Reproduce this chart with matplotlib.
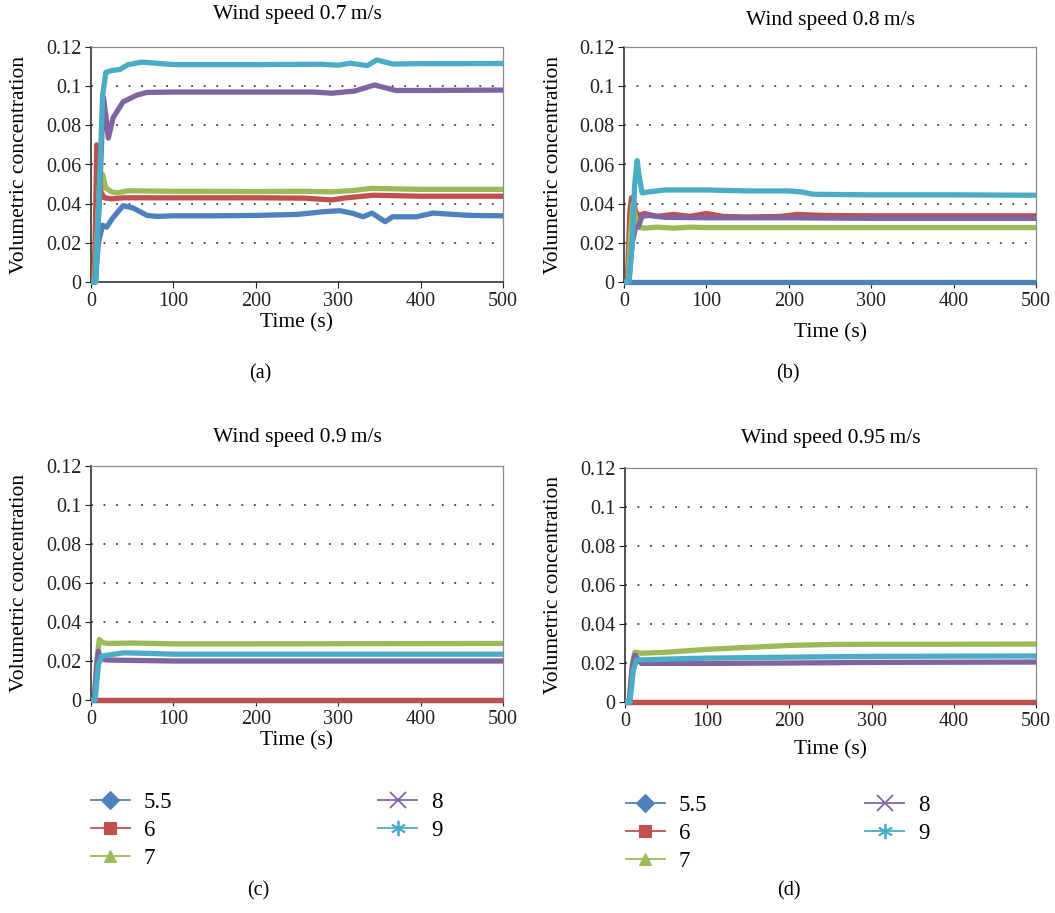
import matplotlib
matplotlib.use("Agg")
import matplotlib.pyplot as plt
from matplotlib.lines import Line2D

plt.rcParams['font.family'] = ['Liberation Serif', 'DejaVu Serif']

# ---------------- data ----------------
series_names = ["5.5", "6", "7", "8", "9"]
colors = ["#4F81BD", "#C0504D", "#9BBB59", "#8064A2", "#4BACC6"]
markers = ["D", "s", "^", "x", (6, 2, 0)]
titles = ["Wind speed 0.7\u2009m/s", "Wind speed 0.8\u2009m/s",
          "Wind speed 0.9\u2009m/s", "Wind speed 0.95\u2009m/s"]
panel_labels = ["(a)", "(b)", "(c)", "(d)"]
yticks = [0, 0.02, 0.04, 0.06, 0.08, 0.1, 0.12]
ytick_labels = ["0", "0.02", "0.04", "0.06", "0.08", "0.1", "0.12"]
xticks = [0, 100, 200, 300, 400, 500]

# Panel (a) 0.7 m/s
a55_t = [0, 5, 9, 14, 19, 27, 39, 51, 68, 80, 100, 150, 200, 250, 262, 282, 302, 318, 330, 341, 357, 366, 395, 415, 440, 460, 500]
a55_v = [0, 0, 0.02, 0.029, 0.028, 0.033, 0.039, 0.0378, 0.034, 0.0335, 0.0338, 0.0338, 0.034, 0.0345, 0.035, 0.0359, 0.0364, 0.035, 0.0333, 0.0352, 0.0308, 0.0333, 0.0333, 0.0352, 0.0345, 0.034, 0.0338]
a6_t = [0, 3, 5, 7, 9, 12, 16, 25, 40, 100, 200, 260, 292, 310, 343, 400, 500]
a6_v = [0, 0, 0.02, 0.07, 0.068, 0.046, 0.043, 0.0425, 0.043, 0.043, 0.043, 0.0428, 0.0419, 0.043, 0.0443, 0.0438, 0.0438]
a7_t = [0, 4, 8, 11, 14, 18, 25, 32, 45, 100, 200, 260, 292, 320, 340, 400, 500]
a7_v = [0, 0, 0.03, 0.056, 0.055, 0.048, 0.046, 0.0455, 0.0466, 0.0463, 0.0462, 0.0463, 0.046, 0.0468, 0.0478, 0.0473, 0.0473]
a8_t = [0, 5, 10, 15, 18, 21, 27, 39, 56, 68, 100, 200, 270, 292, 320, 344, 370, 400, 500]
a8_v = [0, 0, 0.04, 0.0945, 0.085, 0.0735, 0.084, 0.092, 0.0955, 0.0968, 0.097, 0.097, 0.097, 0.0964, 0.0975, 0.1006, 0.0978, 0.0978, 0.098]
a9_t = [0, 6, 10, 14, 18, 25, 35, 45, 62, 100, 200, 280, 300, 315, 335, 347, 366, 400, 450, 500]
a9_v = [0, 0, 0.045, 0.095, 0.107, 0.108, 0.1085, 0.111, 0.1123, 0.111, 0.111, 0.1112, 0.1107, 0.1117, 0.1105, 0.1134, 0.1113, 0.1115, 0.1115, 0.1116]

# Panel (b) 0.8 m/s
b55_t = [0, 500]
b55_v = [0, 0]
b6_t = [0, 4, 7, 9, 11, 14, 18, 25, 40, 60, 80, 100, 120, 150, 190, 210, 240, 300, 500]
b6_v = [0, 0, 0.035, 0.043, 0.043, 0.036, 0.034, 0.035, 0.0335, 0.0345, 0.0335, 0.035, 0.0335, 0.0332, 0.0335, 0.0345, 0.034, 0.0338, 0.0338]
b7_t = [0, 5, 8, 11, 13, 17, 25, 40, 60, 80, 100, 200, 500]
b7_v = [0, 0, 0.025, 0.04, 0.035, 0.028, 0.0275, 0.028, 0.0275, 0.028, 0.0278, 0.0278, 0.0278]
b8_t = [0, 6, 10, 14, 17, 22, 30, 50, 100, 200, 300, 500]
b8_v = [0, 0, 0.02, 0.028, 0.028, 0.0335, 0.034, 0.033, 0.0328, 0.0328, 0.0325, 0.0325]
b9_t = [0, 6, 10, 13, 16, 18, 22, 30, 50, 100, 150, 200, 215, 230, 300, 400, 500]
b9_v = [0, 0, 0.02, 0.05, 0.062, 0.055, 0.0455, 0.046, 0.047, 0.047, 0.0465, 0.0465, 0.046, 0.0448, 0.0445, 0.0445, 0.0443]

# Panel (c) 0.9 m/s
c55_t = [0, 500]
c55_v = [0, 0]
c6_t = [0, 500]
c6_v = [0, 0]
c7_t = [0, 4, 7, 10, 14, 20, 50, 100, 200, 500]
c7_v = [0, 0, 0.02, 0.031, 0.0295, 0.029, 0.0292, 0.0288, 0.0288, 0.029]
c8_t = [0, 4, 7, 9, 12, 20, 50, 100, 500]
c8_v = [0, 0, 0.018, 0.025, 0.021, 0.0205, 0.0203, 0.020, 0.020]
c9_t = [0, 5, 9, 13, 20, 40, 60, 100, 200, 500]
c9_v = [0, 0, 0.018, 0.0225, 0.023, 0.0242, 0.024, 0.0235, 0.0235, 0.0235]

# Panel (d) 0.95 m/s
d55_t = [0, 500]
d55_v = [0, 0]
d6_t = [0, 500]
d6_v = [0, 0]
d7_t = [0, 5, 9, 12, 20, 50, 100, 150, 200, 250, 300, 400, 500]
d7_v = [0, 0, 0.02, 0.0255, 0.025, 0.0255, 0.027, 0.028, 0.029, 0.0295, 0.0296, 0.0296, 0.0297]
d8_t = [0, 5, 9, 12, 20, 100, 200, 300, 500]
d8_v = [0, 0, 0.018, 0.024, 0.0198, 0.0198, 0.020, 0.0203, 0.0205]
d9_t = [0, 6, 10, 14, 50, 100, 200, 300, 500]
d9_v = [0, 0, 0.016, 0.0215, 0.022, 0.0225, 0.023, 0.0234, 0.0236]

panels = [
    [(a55_t, a55_v), (a6_t, a6_v), (a7_t, a7_v), (a8_t, a8_v), (a9_t, a9_v)],
    [(b55_t, b55_v), (b6_t, b6_v), (b7_t, b7_v), (b8_t, b8_v), (b9_t, b9_v)],
    [(c55_t, c55_v), (c6_t, c6_v), (c7_t, c7_v), (c8_t, c8_v), (c9_t, c9_v)],
    [(d55_t, d55_v), (d6_t, d6_v), (d7_t, d7_v), (d8_t, d8_v), (d9_t, d9_v)],
]

# ---------------- layout ----------------
W, H = 1055, 913
fig = plt.figure(figsize=(W / 100, H / 100), dpi=100)

# axes boxes in pixels: left, top, right, bottom
boxes = [(91, 47, 503, 282), (624, 47, 1036, 282),
         (91, 466, 503, 700), (625, 468, 1036, 702)]
title_y = [15, 20, 437, 438]
xlabel_y = [323, 333, 741, 750]
ylabel_x = [20, 553, 20, 553]
plabel_pos = [(260, 374), (788, 374), (258, 891), (789, 891)]

FS = 14.5
LFS = 15.5
for i, (l, t, r, b) in enumerate(boxes):
    ax = fig.add_axes([l / W, 1 - b / H, (r - l) / W, (b - t) / H])
    for j, (tt, vv) in enumerate(panels[i]):
        ax.plot(tt, vv, color=colors[j], lw=3.8, solid_capstyle='butt',
                solid_joinstyle='round', clip_on=False, zorder=3 + j)
    ax.set_xlim(0, 500)
    ax.set_ylim(0, 0.12)
    ax.set_yticks(yticks)
    ax.set_yticklabels(ytick_labels)
    ax.set_xticks(xticks)
    for yv in yticks[1:-1]:
        ax.axhline(yv, color='#222222', lw=1.1, ls=(0, (1.2, 7.0)), zorder=1)
    for s in ['top', 'right']:
        ax.spines[s].set_color('#8a8a8a')
        ax.spines[s].set_linewidth(0.9)
    for s in ['left', 'bottom']:
        ax.spines[s].set_color('#222222')
        ax.spines[s].set_linewidth(1.1)
    ax.tick_params(axis='both', direction='out', length=4, width=0.8,
                   labelsize=FS, colors='#222222', pad=3)
    cx = (l + r) / 2 / W
    fig.text(cx, 1 - title_y[i] / H, titles[i], ha='center', va='center', fontsize=LFS)
    fig.text(cx, 1 - xlabel_y[i] / H, "Time (s)", ha='center', va='center', fontsize=LFS)
    fig.text(ylabel_x[i] / W, 1 - ((t + b) / 2) / H, "Volumetric concentration",
             rotation=90, ha='center', va='center', fontsize=LFS)
    px, py = plabel_pos[i]
    fig.text(px / W, 1 - py / H, panel_labels[i], ha='center', va='center', fontsize=FS)

handles = [Line2D([0], [0], color=colors[j], lw=1.3, marker=markers[j],
                  markersize=9 if j < 3 else 11, markeredgewidth=1.3 if j >= 3 else 0.8,
                  markerfacecolor=colors[j], markeredgecolor=colors[j])
           for j in range(5)]

for (lx, ly, cs) in [(91, 792, 9.0), (626, 795, 6.9)]:
    fig.legend(handles, series_names, loc='upper left',
               bbox_to_anchor=(lx / W, 1 - ly / H), ncol=2, frameon=False,
               fontsize=LFS + 1, handlelength=1.7, handletextpad=0.6,
               columnspacing=cs, labelspacing=0.3, borderaxespad=0,
               borderpad=0)

fig.savefig("out.png", dpi=100)
